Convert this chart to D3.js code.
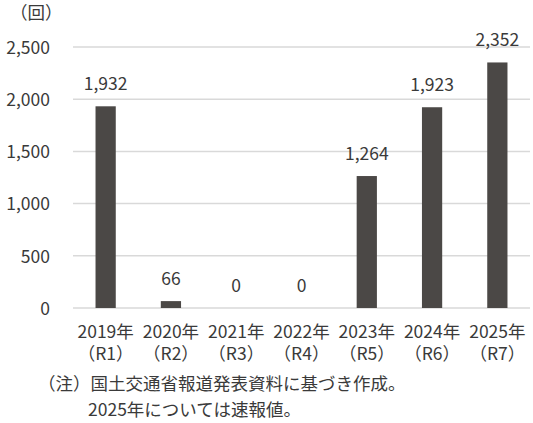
<!DOCTYPE html>
<meta charset="utf-8">
<style>
  body { margin: 0; background: #fff; }
  text { font-family: "Noto Sans CJK JP", "Noto Sans", sans-serif; fill: #3a3a3a; }
</style>
<body>
<script src="https://cdn.jsdelivr.net/npm/d3@7"></script>
<script>
  var years = ["2019年", "2020年", "2021年", "2022年", "2023年", "2024年", "2025年"];
  var reiwa = ["（R1）", "（R2）", "（R3）", "（R4）", "（R5）", "（R6）", "（R7）"];
  var counts = [1932, 66, 0, 0, 1264, 1923, 2352];
  var yTicks = [0, 500, 1000, 1500, 2000, 2500];
  var notes = ["（注）国土交通省報道発表資料に基づき作成。", "2025年については速報値。"];

  var width = 533, height = 423;
  var mLeft = 73, mRight = 530, mTop = 47, mBottom = 308;
  var fs = "17.5px";

  var svg = d3.select("body").append("svg")
    .attr("width", width)
    .attr("height", height);

  var x = d3.scaleBand()
    .domain(years)
    .range([mLeft, mRight])
    .paddingInner(0.69)
    .paddingOuter(0.345);

  var y = d3.scaleLinear()
    .domain([0, 2500])
    .range([mBottom, mTop]);

  // gridlines
  svg.append("g")
    .selectAll("line")
    .data(yTicks)
    .enter()
    .append("line")
    .attr("x1", mLeft)
    .attr("x2", mRight)
    .attr("y1", function(d) { return y(d); })
    .attr("y2", function(d) { return y(d); })
    .style("stroke", "#d9d9d9")
    .style("stroke-width", 1.5);

  // y axis labels
  var yAxis = d3.axisLeft(y)
    .tickValues(yTicks)
    .tickFormat(d3.format(","))
    .tickSize(0)
    .tickPadding(23);
  var ya = svg.append("g")
    .attr("transform", "translate(" + mLeft + ",0)")
    .call(yAxis);
  ya.select(".domain").remove();
  ya.selectAll("text")
    .attr("fill", null)
    .style("font-size", fs)
    .style("font-family", null)
    .attr("dy", "0.36em");
  ya.attr("font-family", null).attr("font-size", null);

  svg.append("text")
    .attr("x", 10)
    .attr("y", 19)
    .style("font-size", fs)
    .text("（回）");

  // bars
  svg.append("g")
    .selectAll("rect")
    .data(counts)
    .enter()
    .append("rect")
    .attr("x", function(d, i) { return x(years[i]); })
    .attr("y", function(d) { return y(d); })
    .attr("width", x.bandwidth())
    .attr("height", function(d) { return y(0) - y(d); })
    .style("fill", "#4b4846");

  // value labels
  svg.append("g")
    .selectAll("text")
    .data(counts)
    .enter()
    .append("text")
    .attr("x", function(d, i) { return x(years[i]) + x.bandwidth() / 2; })
    .attr("y", function(d) { return y(d) - 16; })
    .attr("text-anchor", "middle")
    .style("font-size", fs)
    .text(function(d) { return d3.format(",")(d); });

  // x labels
  var xl = svg.append("g")
    .selectAll("g")
    .data(years)
    .enter()
    .append("g")
    .attr("transform", function(d) { return "translate(" + (x(d) + x.bandwidth() / 2) + ",0)"; });
  xl.append("text")
    .attr("y", 338)
    .attr("text-anchor", "middle")
    .style("font-size", fs)
    .text(function(d) { return d; });
  xl.append("text")
    .attr("y", 360)
    .attr("text-anchor", "middle")
    .style("font-size", fs)
    .text(function(d, i) { return reiwa[i]; });

  // notes
  svg.append("text")
    .attr("x", 38)
    .attr("y", 390)
    .style("font-size", fs)
    .text(notes[0]);
  svg.append("text")
    .attr("x", 88)
    .attr("y", 416)
    .style("font-size", fs)
    .text(notes[1]);
</script>
</body>
